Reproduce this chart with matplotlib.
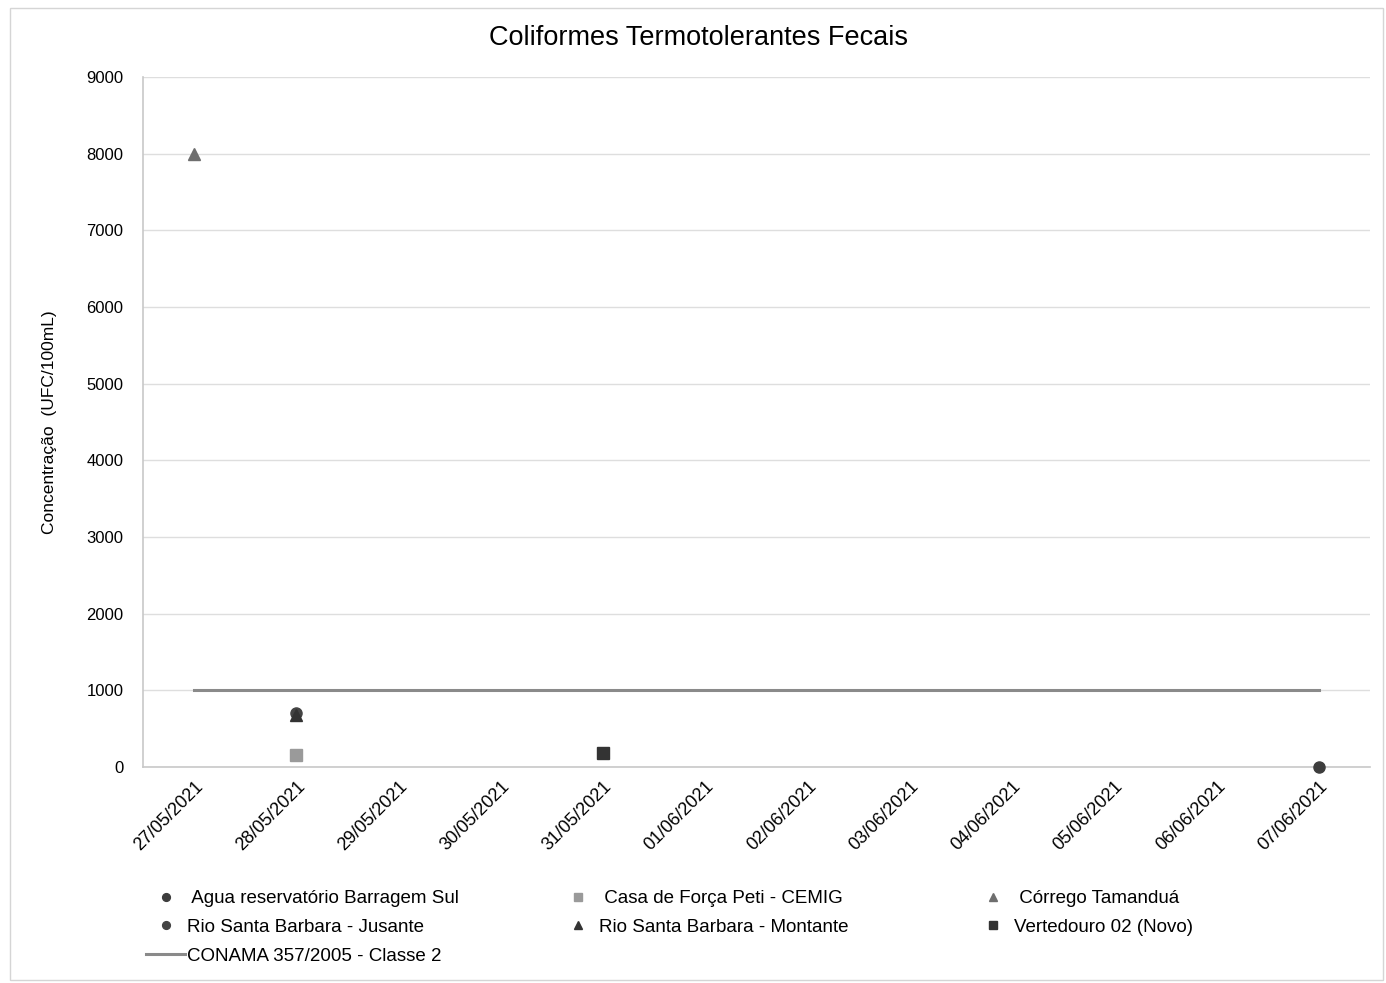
import numpy as np
import matplotlib
matplotlib.use('Agg')
import matplotlib.pyplot as plt
from matplotlib.patches import Rectangle

plt.rcParams['font.family'] = ['Liberation Sans', 'DejaVu Sans']

datas = ['27/05/2021', '28/05/2021', '29/05/2021', '30/05/2021', '31/05/2021',
         '01/06/2021', '02/06/2021', '03/06/2021', '04/06/2021', '05/06/2021',
         '06/06/2021', '07/06/2021']

# pontos de coleta: (data, valor)
agua_barragem = (['07/06/2021'], [2])
casa_forca = (['28/05/2021'], [160])
corrego_tamandua = (['27/05/2021'], [8000])
rio_jusante = (['28/05/2021'], [700])
rio_montante = (['28/05/2021'], [680])
vertedouro = (['31/05/2021'], [180])
conama_limite = 1000

W, H = 1386, 983
fig = plt.figure(figsize=(W / 100, H / 100), dpi=100)
ax = fig.add_axes([0.1032, 0.2197, 0.8853, 0.702])

idx = {d: i for i, d in enumerate(datas)}

def pos(serie):
    return [idx[d] for d in serie[0]], serie[1]

kw = dict(ms=8, ls='none', clip_on=False, zorder=5)
x, y = pos(agua_barragem)
h1, = ax.plot(x, y, 'o', color='#3d3d3d', label=' Agua reservatório Barragem Sul', **kw)
x, y = pos(casa_forca)
h2, = ax.plot(x, y, 's', color='#9a9a9a', label=' Casa de Força Peti - CEMIG', **kw)
x, y = pos(corrego_tamandua)
h3, = ax.plot(x, y, '^', color='#6e6e6e', label=' Córrego Tamanduá', **kw)
x, y = pos(rio_jusante)
h4, = ax.plot(x, y, 'o', color='#444444', label='Rio Santa Barbara - Jusante', **kw)
x, y = pos(rio_montante)
h5, = ax.plot(x, y, '^', color='#333333', label='Rio Santa Barbara - Montante', **kw)
x, y = pos(vertedouro)
h6, = ax.plot(x, y, 's', color='#333333', label='Vertedouro 02 (Novo)', **kw)
h7, = ax.plot(range(len(datas)), [conama_limite] * len(datas), '-', color='#8a8a8a', lw=2.2,
              label='CONAMA 357/2005 - Classe 2')

ax.set_xlim(-0.5, len(datas) - 0.5)
ax.set_ylim(0, 9000)
ax.set_yticks(np.arange(0, 9001, 1000))
ax.set_xticks(range(len(datas)))
ax.set_xticklabels(datas, rotation=45, ha='right', rotation_mode='anchor', fontsize=13)
ax.tick_params(axis='y', labelsize=12, length=0, pad=14)
ax.tick_params(axis='x', length=0, pad=8)
ax.grid(axis='y', color='#dedede', lw=1)
ax.set_axisbelow(True)
for s in ['top', 'right']:
    ax.spines[s].set_visible(False)
for s in ['left', 'bottom']:
    ax.spines[s].set_color('#c8c8c8')
    ax.spines[s].set_linewidth(1.2)

ax.set_ylabel('Concentração  (UFC/100mL)', fontsize=12.5, labelpad=21)
fig.text(0.504, 0.961, 'Coliformes Termotolerantes Fecais', ha='center', va='center', fontsize=19.5)

# legenda em três colunas, linha a linha
colunas = [([h1, h4, h7], 146), ([h2, h5], 558), ([h3, h6], 973)]
for hs, x0 in colunas:
    leg = fig.legend(handles=hs, labels=[h.get_label() for h in hs],
                     loc='upper left', bbox_to_anchor=(x0 / W, 1 - 890 / H), frameon=False,
                     fontsize=13.5, markerscale=0.7, handlelength=2.1, borderpad=0,
                     borderaxespad=0, labelspacing=0.62, handletextpad=0.1)

fig.patches.append(Rectangle((0.007, 0.003), 0.991, 0.989, transform=fig.transFigure,
                             fill=False, edgecolor='#d5d5d5', lw=1))

fig.savefig('out.png', dpi=100)
